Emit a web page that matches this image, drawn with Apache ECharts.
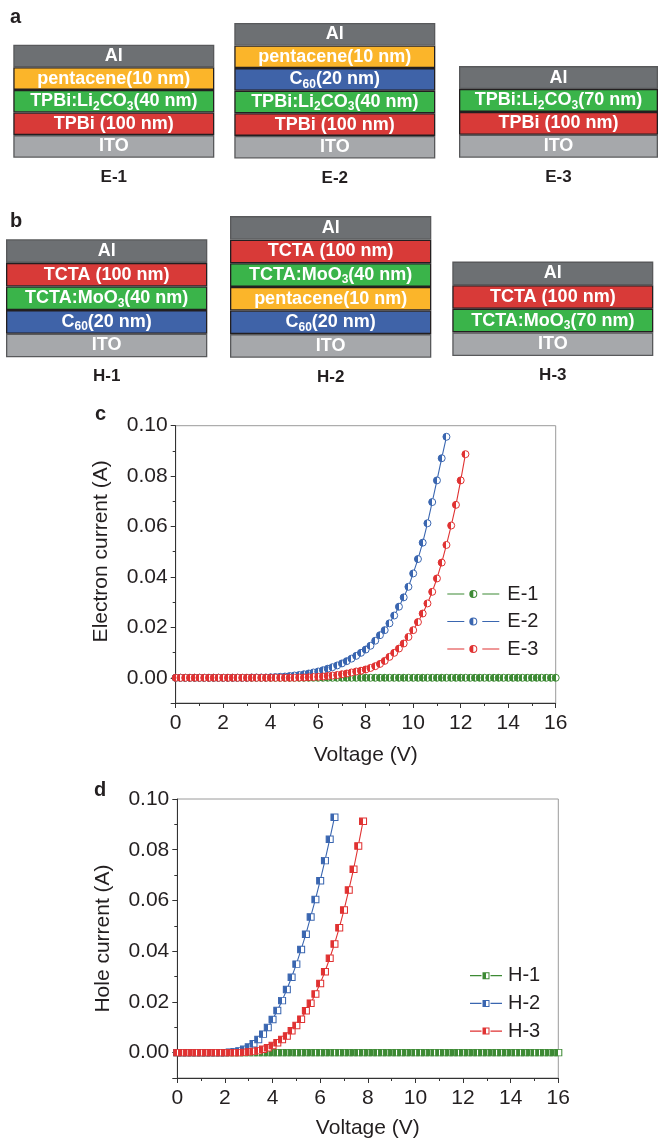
<!DOCTYPE html>
<html><head><meta charset="utf-8">
<script src="https://cdn.jsdelivr.net/npm/echarts@6/dist/echarts.min.js"></script>
<style>html,body{margin:0;padding:0;background:#fff}#chart{width:658px;height:1138px}</style>
</head><body><div id="chart"></div>
<script>
// ---------- DATA ----------
const voltage = [0,0.2,0.4,0.6,0.8,1.0,1.2,1.4,1.6,1.8,2.0,2.2,2.4,2.6,2.8,3.0,3.2,3.4,3.6,3.8,4.0,4.2,4.4,4.6,4.8,5.0,5.2,5.4,5.6,5.8,6.0,6.2,6.4,6.6,6.8,7.0,7.2,7.4,7.6,7.8,8.0,8.2,8.4,8.6,8.8,9.0,9.2,9.4,9.6,9.8,10.0,10.2,10.4,10.6,10.8,11.0,11.2,11.4,11.6,11.8,12.0,12.2,12.4,12.6,12.8,13.0,13.2,13.4,13.6,13.8,14.0,14.2,14.4,14.6,14.8,15.0,15.2,15.4,15.6,15.8,16.0];

const currentE1 = [0,0,0,0,0,0,0,0,0,0,0,0,0,0,0,0,0,0,0,0,0,0,0,0,0,0,0,0,0,0,0,0,0,0,0,0,0,0,0,0,0,0,0,0,0,0,0,0,0,0,0,0,0,0,0,0,0,0,0,0,0,0,0,0,0,0,0,0,0,0,0,0,0,0,0,0,0,0,0,0,0];
const currentE2 = [0,0,0,0,0,0,0,0,0,0,0,0,0,0,0,0,0.0001,0.0001,0.0001,0.0001,0.0002,0.0003,0.0004,0.0005,0.0007,0.0009,0.0011,0.0014,0.0017,0.0021,0.0025,0.0030,0.0036,0.0042,0.0049,0.0057,0.0066,0.0076,0.0087,0.0099,0.0112,0.0127,0.0147,0.0169,0.0189,0.0216,0.0247,0.0282,0.0319,0.0361,0.0414,0.0471,0.0536,0.0613,0.0697,0.0783,0.0871,0.0956];
const currentE3 = [0,0,0,0,0,0,0,0,0,0,0,0,0,0,0,0,0,0,0,0,0,0,0,0,0,0,0.0001,0.0001,0.0002,0.0003,0.0004,0.0005,0.0007,0.0009,0.0011,0.0014,0.0017,0.0021,0.0025,0.0028,0.0033,0.0039,0.0046,0.0055,0.0067,0.0083,0.0099,0.0116,0.0136,0.0162,0.0189,0.0221,0.0255,0.0295,0.0341,0.0394,0.0457,0.0527,0.0604,0.0686,0.0783,0.0887];

const currentH1 = [0,0,0,0,0,0,0,0,0,0,0,0,0,0,0,0,0,0,0,0,0,0,0,0,0,0,0,0,0,0,0,0,0,0,0,0,0,0,0,0,0,0,0,0,0,0,0,0,0,0,0,0,0,0,0,0,0,0,0,0,0,0,0,0,0,0,0,0,0,0,0,0,0,0,0,0,0,0,0,0,0];
const currentH2 = [0,0,0,0,0,0,0,0,0,0,0,0.0002,0.0004,0.0007,0.0013,0.0022,0.0035,0.0052,0.0073,0.0099,0.0131,0.0166,0.0205,0.0249,0.0297,0.0349,0.0407,0.0467,0.0535,0.0604,0.0678,0.0757,0.0841,0.0928];
const currentH3 = [0,0,0,0,0,0,0,0,0,0,0,0,0,0,0.0001,0.0003,0.0005,0.0008,0.0013,0.0019,0.0028,0.0039,0.0052,0.0066,0.0086,0.0107,0.0132,0.0165,0.0195,0.0231,0.0273,0.0319,0.0372,0.0428,0.0492,0.0562,0.0641,0.0723,0.0815,0.0912];

const namesC = ['E-1','E-2','E-3'];
const namesD = ['H-1','H-2','H-3'];
const xTickInterval = 2, xMin = 0, xMax = 16;
const yMin = -0.01, yMax = 0.10, yInterval = 0.02;

const deviceNames = ['E-1','E-2','E-3','H-1','H-2','H-3'];
// layers listed bottom -> top
const layersE1 = ['ITO','TPBi (100 nm)','TPBi:Li_2CO_3(40 nm)','pentacene(10 nm)','Al'];
const layersE2 = ['ITO','TPBi (100 nm)','TPBi:Li_2CO_3(40 nm)','C_60(20 nm)','pentacene(10 nm)','Al'];
const layersE3 = ['ITO','TPBi (100 nm)','TPBi:Li_2CO_3(70 nm)','Al'];
const layersH1 = ['ITO','C_60(20 nm)','TCTA:MoO_3(40 nm)','TCTA (100 nm)','Al'];
const layersH2 = ['ITO','C_60(20 nm)','pentacene(10 nm)','TCTA:MoO_3(40 nm)','TCTA (100 nm)','Al'];
const layersH3 = ['ITO','TCTA:MoO_3(70 nm)','TCTA (100 nm)','Al'];
const panelLetters = ['a','b','c','d'];

// ---------- STYLE / LAYOUT ----------
const FONT = '"Liberation Sans", Arial, Helvetica, sans-serif';
const TXT = '#231f20';
const GREEN = '#3d8a34', BLUE = '#3a66b0', RED = '#e03232';
const colorsCD = [GREEN, BLUE, RED];

const allLayers = [layersE1, layersE2, layersE3, layersH1, layersH2, layersH3];
const stackBoxes = [
  {left: 13.3, width: 201, bottom: 157.7, h: 22.6},
  {left: 234.3, width: 201, bottom: 158.5, h: 22.6},
  {left: 459, width: 199, bottom: 157.7, h: 22.9},
  {left: 6, width: 201.3, bottom: 357.3, h: 23.6},
  {left: 230, width: 201.3, bottom: 357.7, h: 23.6},
  {left: 452.3, width: 201, bottom: 356, h: 23.6}
];

function layerColor(n) {
  if (n === 'Al') return '#6d7073';
  if (n === 'ITO') return '#a6a8ab';
  if (n.indexOf('pentacene') === 0) return '#fbb52a';
  if (n.indexOf('C_60') === 0) return '#3f63a8';
  if (n.indexOf(':') >= 0) return '#3ab44a';
  return '#d83a38';
}
function richName(n) { return '{n|' + n.replace(/_(\d+)/g, '}{s|$1}{n|') + '}'; }

const grids = [], xAxes = [], yAxes = [], series = [];

allLayers.forEach((layers, i) => {
  const b = stackBoxes[i];
  const H = layers.length * b.h;
  grids.push({left: b.left, width: b.width, top: b.bottom - H, height: H, outerBoundsMode: 'none'});
  xAxes.push({gridIndex: i, type: 'category', data: [deviceNames[i]],
    axisLine: {show: false}, axisTick: {show: false}, splitLine: {show: false},
    axisLabel: {fontFamily: FONT, fontWeight: 'bold', fontSize: 17, color: TXT, margin: 11}});
  yAxes.push({gridIndex: i, type: 'value', min: 0, max: layers.length, show: false});
  layers.forEach((name, j) => {
    const plain = (name === 'Al' || name === 'ITO');
    series.push({
      type: 'bar', xAxisIndex: i, yAxisIndex: i, stack: 'dev' + i, silent: true,
      data: [1], barWidth: '100%',
      itemStyle: {color: layerColor(name), borderColor: plain ? '#58595b' : '#231f20', borderWidth: 1.3},
      label: {show: true, position: 'inside', formatter: richName(name),
        rich: {
          n: {fontFamily: FONT, fontWeight: 'bold', fontSize: 18, color: '#fff', lineHeight: 22},
          s: {fontFamily: FONT, fontWeight: 'bold', fontSize: 12, color: '#fff', lineHeight: 12, verticalAlign: 'bottom'}
        }}
    });
  });
});

// plot grids (index 6 and 7); each has a hidden data y axis and an inverted display y axis
const plotGrids = [
  {left: 175.7, top: 425.7, width: 380, height: 277.3},
  {left: 177.3, top: 799, width: 381, height: 279}
];
const yNames = ['Electron current (A)', 'Hole current (A)'];
const yNamePad = [[0, 0, 0, 26], [0, 0, 0, 0]];
const xLabelMargin = [10, 10];
const xNameGap = [42, 40];
const dataYAxisIndex = [];
plotGrids.forEach((g, k) => {
  const gi = 6 + k;
  grids.push(Object.assign({show: true, borderColor: '#9a9a9a', borderWidth: 1, outerBoundsMode: 'none'}, g));
  const axLine = {show: true, onZero: false, lineStyle: {color: '#333', width: 1}};
  xAxes.push({gridIndex: gi, type: 'value', min: xMin, max: xMax, interval: xTickInterval,
    axisLine: axLine, axisTick: {show: true, length: 5, lineStyle: {color: '#333'}},
    minorTick: {show: true, splitNumber: 2, length: 3, lineStyle: {color: '#333'}},
    splitLine: {show: false}, minorSplitLine: {show: false},
    axisLabel: {fontFamily: FONT, fontSize: 21, color: TXT, margin: xLabelMargin[k]},
    name: 'Voltage (V)', nameLocation: 'middle', nameGap: xNameGap[k], nameMoveOverlap: false,
    nameTextStyle: {fontFamily: FONT, fontSize: 21, color: TXT}});
  // data axis (hidden)
  dataYAxisIndex.push(yAxes.length);
  yAxes.push({gridIndex: gi, type: 'value', position: 'left', min: yMin, max: yMax, show: false});
  // display axis: negated + inverted so that ticks start at 0.10 and step down to 0.00
  yAxes.push({gridIndex: gi, type: 'value', position: 'left', inverse: true, min: -yMax, max: -yMin, interval: yInterval,
    axisLine: axLine, axisTick: {show: true, length: 5, lineStyle: {color: '#333'}},
    minorTick: {show: true, splitNumber: 2, length: 3, lineStyle: {color: '#333'}},
    splitLine: {show: false}, minorSplitLine: {show: false},
    axisLabel: {fontFamily: FONT, fontSize: 21, color: TXT, margin: 8, showMaxLabel: false,
      formatter: v => (v > 0.0001 ? '' : Math.abs(v).toFixed(2))},
    name: yNames[k], nameLocation: 'middle', nameGap: 64, nameMoveOverlap: false,
    nameTextStyle: {fontFamily: FONT, fontSize: 21, color: TXT, padding: yNamePad[k]}});
});

function halfFill(c) {
  return {type: 'linear', x: 0, y: 0, x2: 1, y2: 0,
    colorStops: [{offset: 0, color: c}, {offset: 0.5, color: c}, {offset: 0.5, color: '#fff'}, {offset: 1, color: '#fff'}]};
}
function pairs(cur) { return cur.map((v, i) => [voltage[i], v]); }

[currentE1, currentE2, currentE3].forEach((cur, i) => {
  series.push({type: 'line', name: namesC[i], xAxisIndex: 6, yAxisIndex: dataYAxisIndex[0], data: pairs(cur),
    symbol: 'circle', symbolSize: 7, showSymbol: true,
    itemStyle: {color: halfFill(colorsCD[i]), borderColor: colorsCD[i], borderWidth: 1},
    lineStyle: {color: colorsCD[i], width: 1.1}, z: 3 + i});
});
[currentH1, currentH2, currentH3].forEach((cur, i) => {
  series.push({type: 'line', name: namesD[i], xAxisIndex: 7, yAxisIndex: dataYAxisIndex[1], data: pairs(cur),
    symbol: 'rect', symbolSize: [7, 6.5], showSymbol: true,
    itemStyle: {color: halfFill(colorsCD[i]), borderColor: colorsCD[i], borderWidth: 1},
    lineStyle: {color: colorsCD[i], width: 1.1}, z: 3 + i});
});

const ICON_C = 'path://M0 3.4H17V4.6H0Z M35 3.4H52V4.6H35Z M26 0A4 4 0 1 1 26 8A4 4 0 1 1 26 0Z M26 1V7A3 3 0 0 0 26 1Z';
const ICON_D = 'path://M0 2.9H11.5V4.1H0Z M20.5 2.9H32V4.1H20.5Z M12.5 0H19.5V7H12.5Z M16 1V6H18.5V1Z';

const legends = [
  {left: 447.3, top: 584, orient: 'vertical', itemWidth: 52, itemHeight: 8, itemGap: 7.5, padding: 0,
    textStyle: {fontFamily: FONT, fontSize: 20, color: TXT, lineHeight: 20, padding: [0, 0, 0, 3]},
    data: namesC.map((n, i) => ({name: n, icon: ICON_C, itemStyle: {color: colorsCD[i], borderWidth: 0}}))},
  {left: 470, top: 965.7, orient: 'vertical', itemWidth: 32, itemHeight: 7, itemGap: 7.7, padding: 0,
    textStyle: {fontFamily: FONT, fontSize: 20, color: TXT, lineHeight: 20, padding: [0, 0, 0, 1]},
    data: namesD.map((n, i) => ({name: n, icon: ICON_D, itemStyle: {color: colorsCD[i], borderWidth: 0}}))}
];

const letterPos = [{left: 10, top: 7}, {left: 10, top: 211}, {left: 95, top: 404}, {left: 94, top: 780}];
const titles = panelLetters.map((t, i) => ({text: t, left: letterPos[i].left, top: letterPos[i].top, padding: 0,
  textStyle: {fontFamily: FONT, fontWeight: 'bold', fontSize: 20, color: TXT}}));

const chart = echarts.init(document.getElementById('chart'), null, {renderer: 'canvas'});
chart.setOption({
  animation: false,
  backgroundColor: '#fff',
  textStyle: {fontFamily: FONT},
  title: titles,
  legend: legends,
  grid: grids,
  xAxis: xAxes,
  yAxis: yAxes,
  series: series
});
</script>
</body></html>
